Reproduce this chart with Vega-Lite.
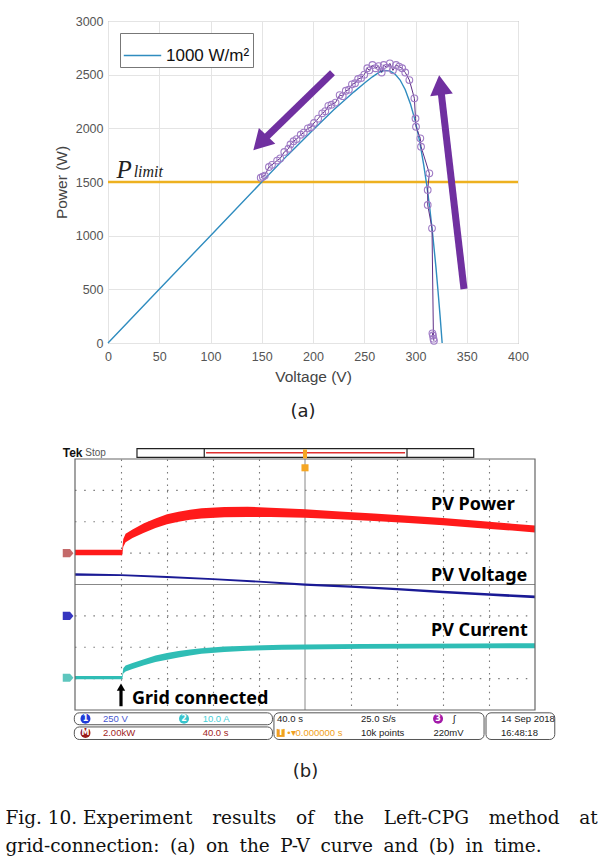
{
  "$schema": "https://vega.github.io/schema/vega-lite/v6.json",
  "background": "white",
  "padding": {"left": 5, "top": 14, "right": 5, "bottom": 5},
  "spacing": 24,
  "resolve": {"scale": {"color": "independent"}, "legend": {"color": "independent"}},
  "title": {
    "text": ["Fig. 10. Experiment \u2002\u2005results \u2002\u2005of \u2002\u2005the \u2002\u2005Left-CPG \u2002\u2005method \u2002\u2005at", "grid-connection: \u2005(a) \u2005on \u2005the \u2005P-V \u2005curve \u2005and \u2005(b) \u2005in \u2005time."],
    "orient": "bottom", "anchor": "start", "offset": 28,
    "font": "DejaVu Serif", "fontSize": 18.5, "fontWeight": "normal", "color": "#111", "lineHeight": 28
  },
  "datasets": {
    "curve": [
      {"V": 0, "P": 0, "s": "1000 W/m²"}, {"V": 50, "P": 500, "s": "1000 W/m²"}, {"V": 100, "P": 1000, "s": "1000 W/m²"},
      {"V": 150, "P": 1500, "s": "1000 W/m²"}, {"V": 175, "P": 1748, "s": "1000 W/m²"}, {"V": 200, "P": 1985, "s": "1000 W/m²"},
      {"V": 220, "P": 2170, "s": "1000 W/m²"}, {"V": 240, "P": 2340, "s": "1000 W/m²"}, {"V": 250, "P": 2420, "s": "1000 W/m²"},
      {"V": 258, "P": 2480, "s": "1000 W/m²"}, {"V": 265, "P": 2525, "s": "1000 W/m²"}, {"V": 270, "P": 2540, "s": "1000 W/m²"},
      {"V": 275, "P": 2535, "s": "1000 W/m²"}, {"V": 280, "P": 2505, "s": "1000 W/m²"}, {"V": 285, "P": 2450, "s": "1000 W/m²"},
      {"V": 290, "P": 2360, "s": "1000 W/m²"}, {"V": 295, "P": 2230, "s": "1000 W/m²"}, {"V": 300, "P": 2060, "s": "1000 W/m²"},
      {"V": 304, "P": 1880, "s": "1000 W/m²"}, {"V": 308, "P": 1660, "s": "1000 W/m²"}, {"V": 311, "P": 1470, "s": "1000 W/m²"},
      {"V": 314, "P": 1250, "s": "1000 W/m²"}, {"V": 317, "P": 990, "s": "1000 W/m²"}, {"V": 320, "P": 700, "s": "1000 W/m²"},
      {"V": 322, "P": 480, "s": "1000 W/m²"}, {"V": 324, "P": 250, "s": "1000 W/m²"}, {"V": 326, "P": 0, "s": "1000 W/m²"}
    ],
    "meas": [
      {"k": 1, "V": 318, "P": 20}, {"k": 2, "V": 317, "P": 70}, {"k": 3, "V": 316.5, "P": 90}, {"k": 4, "V": 317.5, "P": 40},
      {"k": 5, "V": 316.1, "P": 1068}, {"k": 6, "V": 311.9, "P": 1286}, {"k": 7, "V": 311.9, "P": 1426}, {"k": 8, "V": 313.5, "P": 1581},
      {"k": 9, "V": 305.4, "P": 1829}, {"k": 10, "V": 304.7, "P": 1907}, {"k": 11, "V": 300.5, "P": 2015}, {"k": 12, "V": 300, "P": 2092},
      {"k": 13, "V": 298.9, "P": 2280}, {"k": 14, "V": 294, "P": 2450}, {"k": 15, "V": 290, "P": 2520}, {"k": 16, "V": 287, "P": 2560},
      {"k": 17, "V": 284, "P": 2575}, {"k": 18, "V": 281, "P": 2590}, {"k": 19, "V": 278, "P": 2540}, {"k": 20, "V": 275, "P": 2605},
      {"k": 21, "V": 272, "P": 2565}, {"k": 22, "V": 269, "P": 2590}, {"k": 23, "V": 267, "P": 2520}, {"k": 24, "V": 264, "P": 2580},
      {"k": 25, "V": 261, "P": 2560}, {"k": 26, "V": 258, "P": 2590}, {"k": 27, "V": 255, "P": 2540}, {"k": 28, "V": 253, "P": 2560},
      {"k": 29, "V": 250, "P": 2500}, {"k": 30, "V": 247, "P": 2470}, {"k": 31, "V": 244, "P": 2460}, {"k": 32, "V": 241, "P": 2420},
      {"k": 33, "V": 238, "P": 2410}, {"k": 34, "V": 235, "P": 2360}, {"k": 35, "V": 232, "P": 2350}, {"k": 36, "V": 229, "P": 2300},
      {"k": 37, "V": 226, "P": 2310}, {"k": 38, "V": 222, "P": 2240}, {"k": 39, "V": 218, "P": 2220}, {"k": 40, "V": 215, "P": 2210},
      {"k": 41, "V": 212, "P": 2160}, {"k": 42, "V": 209, "P": 2140}, {"k": 43, "V": 205, "P": 2090}, {"k": 44, "V": 201, "P": 2050},
      {"k": 45, "V": 198, "P": 2010}, {"k": 46, "V": 195, "P": 2000}, {"k": 47, "V": 191, "P": 1960}, {"k": 48, "V": 188, "P": 1940},
      {"k": 49, "V": 184, "P": 1900}, {"k": 50, "V": 181, "P": 1880}, {"k": 51, "V": 178, "P": 1850}, {"k": 52, "V": 176, "P": 1810},
      {"k": 53, "V": 172, "P": 1780}, {"k": 54, "V": 168, "P": 1720}, {"k": 55, "V": 165, "P": 1700}, {"k": 56, "V": 160, "P": 1660},
      {"k": 57, "V": 157, "P": 1640}, {"k": 58, "V": 153, "P": 1560}, {"k": 59, "V": 151, "P": 1550}, {"k": 60, "V": 149, "P": 1540}
    ],
    "traces": [
      {"c": "pw", "t": 0, "lo": 0.93, "hi": 1.11}, {"c": "pw", "t": 41, "lo": 0.93, "hi": 1.11}, {"c": "pw", "t": 42, "lo": 1.2, "hi": 1.45},
      {"c": "pw", "t": 44, "lo": 1.35, "hi": 1.62}, {"c": "pw", "t": 50, "lo": 1.48, "hi": 1.75}, {"c": "pw", "t": 60, "lo": 1.65, "hi": 1.95},
      {"c": "pw", "t": 70, "lo": 1.8, "hi": 2.1}, {"c": "pw", "t": 80, "lo": 1.92, "hi": 2.24}, {"c": "pw", "t": 90, "lo": 2.0, "hi": 2.32},
      {"c": "pw", "t": 100, "lo": 2.06, "hi": 2.38}, {"c": "pw", "t": 110, "lo": 2.1, "hi": 2.43}, {"c": "pw", "t": 130, "lo": 2.14, "hi": 2.47},
      {"c": "pw", "t": 150, "lo": 2.15, "hi": 2.48}, {"c": "pw", "t": 170, "lo": 2.15, "hi": 2.45}, {"c": "pw", "t": 200, "lo": 2.13, "hi": 2.4},
      {"c": "pw", "t": 230, "lo": 2.08, "hi": 2.33}, {"c": "pw", "t": 260, "lo": 2.02, "hi": 2.26}, {"c": "pw", "t": 290, "lo": 1.96, "hi": 2.19},
      {"c": "pw", "t": 320, "lo": 1.89, "hi": 2.12}, {"c": "pw", "t": 350, "lo": 1.8, "hi": 2.03}, {"c": "pw", "t": 380, "lo": 1.72, "hi": 1.94},
      {"c": "pw", "t": 400, "lo": 1.66, "hi": 1.88},
      {"c": "v", "t": 0, "lo": 0.28, "hi": 0.36}, {"c": "v", "t": 40, "lo": 0.27, "hi": 0.33}, {"c": "v", "t": 80, "lo": 0.21, "hi": 0.27},
      {"c": "v", "t": 120, "lo": 0.14, "hi": 0.2}, {"c": "v", "t": 160, "lo": 0.06, "hi": 0.12}, {"c": "v", "t": 200, "lo": -0.04, "hi": 0.03},
      {"c": "v", "t": 240, "lo": -0.1, "hi": -0.03}, {"c": "v", "t": 280, "lo": -0.18, "hi": -0.11}, {"c": "v", "t": 320, "lo": -0.28, "hi": -0.2},
      {"c": "v", "t": 360, "lo": -0.36, "hi": -0.28}, {"c": "v", "t": 400, "lo": -0.44, "hi": -0.35},
      {"c": "i", "t": 0, "lo": -3.02, "hi": -2.92}, {"c": "i", "t": 41, "lo": -3.02, "hi": -2.92}, {"c": "i", "t": 42, "lo": -2.84, "hi": -2.67},
      {"c": "i", "t": 44, "lo": -2.77, "hi": -2.58}, {"c": "i", "t": 50, "lo": -2.69, "hi": -2.5}, {"c": "i", "t": 60, "lo": -2.57, "hi": -2.38},
      {"c": "i", "t": 70, "lo": -2.47, "hi": -2.26}, {"c": "i", "t": 80, "lo": -2.4, "hi": -2.18}, {"c": "i", "t": 90, "lo": -2.33, "hi": -2.12},
      {"c": "i", "t": 100, "lo": -2.26, "hi": -2.07}, {"c": "i", "t": 110, "lo": -2.21, "hi": -2.03}, {"c": "i", "t": 130, "lo": -2.15, "hi": -1.98},
      {"c": "i", "t": 150, "lo": -2.11, "hi": -1.95}, {"c": "i", "t": 180, "lo": -2.08, "hi": -1.92}, {"c": "i", "t": 200, "lo": -2.07, "hi": -1.91},
      {"c": "i", "t": 250, "lo": -2.05, "hi": -1.9}, {"c": "i", "t": 300, "lo": -2.04, "hi": -1.89}, {"c": "i", "t": 350, "lo": -2.03, "hi": -1.88},
      {"c": "i", "t": 400, "lo": -2.03, "hi": -1.87}
    ]
  },
  "vconcat": [
    {
      "width": 410, "height": 322,
      "view": {"stroke": "#8c8c8c", "strokeWidth": 1},
      "title": {"text": "(a)", "orient": "bottom", "frame": "group", "offset": 18, "dx": -10, "font": "DejaVu Sans", "fontSize": 18, "fontWeight": "normal", "color": "#222"},
      "layer": [
        {
          "data": {"values": [{"V": -99, "P": 1500}]},
          "mark": {"type": "point", "shape": "circle", "filled": true, "size": 1, "color": "white", "opacity": 1},
          "encoding": {"x": {"field": "V", "type": "quantitative"}, "y": {"field": "P", "type": "quantitative"}}
        },
        {
          "data": {"values": [{"P": 1500}]},
          "mark": {"type": "rule", "color": "#EDB120", "strokeWidth": 2.5},
          "encoding": {"y": {"field": "P", "type": "quantitative"}}
        },
        {
          "data": {"name": "curve"},
          "mark": {"type": "line", "strokeWidth": 1.4},
          "encoding": {
            "x": {"field": "V", "type": "quantitative", "scale": {"domain": [0, 400], "nice": false},
              "axis": {"title": "Voltage (V)", "values": [0, 50, 100, 150, 200, 250, 300, 350, 400], "grid": true, "gridColor": "#e4e4e4",
                "domain": false, "ticks": false, "labelPadding": 7, "labelFlush": false, "labelOverlap": false,
                "labelFont": "Liberation Sans", "labelFontSize": 12.5, "labelColor": "#555",
                "titleFont": "Liberation Sans", "titleFontSize": 15.5, "titleFontWeight": "normal", "titleColor": "#444", "titlePadding": 7}},
            "y": {"field": "P", "type": "quantitative", "scale": {"domain": [0, 3000], "nice": false},
              "axis": {"title": "Power (W)", "format": "d", "values": [0, 500, 1000, 1500, 2000, 2500, 3000], "grid": true, "gridColor": "#e4e4e4",
                "domain": false, "ticks": false, "labelPadding": 5, "labelFlush": false, "labelOverlap": false,
                "labelFont": "Liberation Sans", "labelFontSize": 12.5, "labelColor": "#555",
                "titleFont": "Liberation Sans", "titleFontSize": 15.5, "titleFontWeight": "normal", "titleColor": "#444", "titlePadding": 6}},
            "color": {"field": "s", "type": "nominal", "scale": {"range": ["#2f8cbf"]},
              "legend": {"orient": "none", "legendX": 12, "legendY": 12, "title": null, "symbolType": "stroke", "symbolSize": 1400,
                "symbolStrokeWidth": 1.5, "labelFont": "Liberation Sans", "labelFontSize": 17, "labelColor": "#111",
                "strokeColor": "#777", "fillColor": "white", "padding": 3, "labelOffset": 4}}
          }
        },
        {
          "data": {"name": "meas"},
          "mark": {"type": "line", "color": "#5e2f86", "strokeWidth": 1},
          "encoding": {"x": {"field": "V", "type": "quantitative"}, "y": {"field": "P", "type": "quantitative"}, "order": {"field": "k"}}
        },
        {
          "data": {"name": "meas"},
          "mark": {"type": "point", "shape": "circle", "filled": false, "color": "#a07cc6", "size": 45, "strokeWidth": 1.1, "opacity": 1},
          "encoding": {"x": {"field": "V", "type": "quantitative"}, "y": {"field": "P", "type": "quantitative"}}
        },
        {
          "data": {"values": [{"V": 219, "P": 2518, "V2": 148.5, "P2": 1863}, {"V": 347.3, "P": 503, "V2": 324.2, "P2": 2404}]},
          "mark": {"type": "rule", "color": "#7030A0", "strokeWidth": 7},
          "encoding": {"x": {"field": "V", "type": "quantitative"}, "y": {"field": "P", "type": "quantitative"}, "x2": {"field": "V2"}, "y2": {"field": "P2"}}
        },
        {
          "data": {"values": [{"V": 148.5, "P": 1863}]},
          "mark": {"type": "point", "shape": "triangle-up", "filled": true, "color": "#7030A0", "size": 520, "angle": 224, "opacity": 1},
          "encoding": {"x": {"field": "V", "type": "quantitative"}, "y": {"field": "P", "type": "quantitative"}}
        },
        {
          "data": {"values": [{"V": 324.2, "P": 2404}]},
          "mark": {"type": "point", "shape": "triangle-up", "filled": true, "color": "#7030A0", "size": 520, "angle": 353, "opacity": 1},
          "encoding": {"x": {"field": "V", "type": "quantitative"}, "y": {"field": "P", "type": "quantitative"}}
        },
        {
          "data": {"values": [{"V": 8.3, "P": 1540, "s": "P"}]},
          "mark": {"type": "text", "font": "Liberation Serif", "fontStyle": "italic", "fontSize": 25, "align": "left", "baseline": "alphabetic", "color": "#222"},
          "encoding": {"x": {"field": "V", "type": "quantitative"}, "y": {"field": "P", "type": "quantitative"}, "text": {"field": "s"}}
        },
        {
          "data": {"values": [{"V": 25, "P": 1548, "s": "limit"}]},
          "mark": {"type": "text", "font": "Liberation Serif", "fontStyle": "italic", "fontSize": 16, "align": "left", "baseline": "alphabetic", "color": "#222"},
          "encoding": {"x": {"field": "V", "type": "quantitative"}, "y": {"field": "P", "type": "quantitative"}, "text": {"field": "s"}}
        }
      ]
    },
    {
      "width": 427, "height": 251,
      "view": {"stroke": "transparent"},
      "title": {"text": "(b)", "orient": "bottom", "frame": "group", "offset": 23, "dx": -16, "font": "DejaVu Sans", "fontSize": 18, "fontWeight": "normal", "color": "#222"},
      "layer": [
        {
          "data": {"values": [{"t": -59.6, "d": 0}]},
          "mark": {"type": "point", "shape": "circle", "filled": true, "size": 1, "color": "white", "opacity": 1},
          "encoding": {"x": {"field": "t", "type": "quantitative"}, "y": {"field": "d", "type": "quantitative"}}
        },
        {
          "data": {"values": [{"t": 0, "t2": 400, "d": -3}, {"t": 0, "t2": 400, "d": -2}, {"t": 0, "t2": 400, "d": -1}, {"t": 0, "t2": 400, "d": 1}, {"t": 0, "t2": 400, "d": 2}, {"t": 0, "t2": 400, "d": 3}]},
          "mark": {"type": "rule", "color": "#777", "strokeWidth": 1.1, "strokeDash": [1.5, 7.7]},
          "encoding": {"x": {"field": "t", "type": "quantitative"}, "x2": {"field": "t2"}, "y": {"field": "d", "type": "quantitative"}}
        },
        {
          "data": {"values": [{"t": 0, "t2": 400, "d": 0}]},
          "mark": {"type": "rule", "color": "#888", "strokeWidth": 1},
          "encoding": {"x": {"field": "t", "type": "quantitative"}, "x2": {"field": "t2"}, "y": {"field": "d", "type": "quantitative"}}
        },
        {
          "data": {"values": [{"t": 200}]},
          "mark": {"type": "rule", "color": "#888", "strokeWidth": 1},
          "encoding": {"x": {"field": "t", "type": "quantitative"}}
        },
        {
          "data": {"name": "traces"},
          "mark": {"type": "area", "opacity": 1},
          "encoding": {
            "x": {"field": "t", "type": "quantitative", "scale": {"domain": [0, 400], "range": [-33, 427], "nice": false, "zero": false},
              "axis": {"title": null, "labels": false, "domain": false, "ticks": false,
                "values": [40, 80, 120, 160, 240, 280, 320, 360],
                "grid": true, "gridColor": "#777", "gridDash": [1.5, 4.78], "gridWidth": 1.1}},
            "y": {"field": "lo", "type": "quantitative", "scale": {"domain": [-4, 4], "nice": false, "zero": false},
              "axis": {"title": null, "labels": false, "domain": false, "ticks": false, "grid": false}},
            "y2": {"field": "hi"},
            "color": {"field": "c", "type": "nominal", "legend": null,
              "scale": {"domain": ["pw", "v", "i", "mpw", "mv", "mi", "ch1", "ch2", "math", "ch3", "k", "trig", "tch1", "tch2", "tmath"],
                "range": ["#ff1a1a", "#1a1a95", "#2fbdb5", "#c46a6a", "#3636c0", "#5ec6be", "#1f3ad8", "#38c4cc", "#9a1a1a", "#a21aa8", "#222222", "#f0a020", "#4757d0", "#48d0d8", "#a02424"]}}
          }
        },
        {
          "data": {"values": [{"t": 0, "t2": 400, "d": -4, "d2": 4}]},
          "mark": {"type": "rect", "fill": "transparent", "stroke": "#666", "strokeWidth": 1.2},
          "encoding": {"x": {"field": "t", "type": "quantitative"}, "x2": {"field": "t2"}, "y": {"field": "d", "type": "quantitative"}, "y2": {"field": "d2"}}
        },
        {
          "data": {"values": [{"t": -6, "d": 1.0, "c": "mpw"}, {"t": -6, "d": -1.0, "c": "mv"}, {"t": -6, "d": -2.97, "c": "mi"}]},
          "mark": {"type": "point", "shape": "M-1,-0.75L0.35,-0.75L1,0L0.35,0.75L-1,0.75Z", "filled": true, "size": 115, "opacity": 1},
          "encoding": {"x": {"field": "t", "type": "quantitative"}, "y": {"field": "d", "type": "quantitative"}, "color": {"field": "c", "type": "nominal", "legend": null}}
        },
        {
          "data": {"values": [{"t": 53.9, "t2": 346.7, "d": 4.05, "d2": 4.33}, {"t": 112.4, "t2": 288.7, "d": 4.05, "d2": 4.33}]},
          "mark": {"type": "rect", "fill": "white", "stroke": "#222", "strokeWidth": 1.2},
          "encoding": {"x": {"field": "t", "type": "quantitative"}, "x2": {"field": "t2"}, "y": {"field": "d", "type": "quantitative"}, "y2": {"field": "d2"}}
        },
        {
          "data": {"values": [{"t": 114, "t2": 287, "d": 4.2}]},
          "mark": {"type": "rule", "color": "#e03030", "strokeWidth": 1.5},
          "encoding": {"x": {"field": "t", "type": "quantitative"}, "x2": {"field": "t2"}, "y": {"field": "d", "type": "quantitative"}}
        },
        {
          "data": {"values": [{"t": 200, "d": 4.16}]},
          "mark": {"type": "point", "shape": "M-0.45,-1L0.45,-1L0.45,1L-0.45,1Z", "filled": true, "size": 81, "color": "#f5a623", "opacity": 1},
          "encoding": {"x": {"field": "t", "type": "quantitative"}, "y": {"field": "d", "type": "quantitative"}}
        },
        {
          "data": {"values": [{"t": 200, "d": 3.72}]},
          "mark": {"type": "point", "shape": "square", "filled": true, "size": 50, "color": "#f5a623", "opacity": 1},
          "encoding": {"x": {"field": "t", "type": "quantitative"}, "y": {"field": "d", "type": "quantitative"}}
        },
        {
          "data": {"values": [{"t": -10.7, "d": 4.18, "s": "Tek"}]},
          "mark": {"type": "text", "font": "Liberation Sans", "fontWeight": "bold", "fontSize": 12, "align": "left", "baseline": "middle", "color": "#111"},
          "encoding": {"x": {"field": "t", "type": "quantitative"}, "y": {"field": "d", "type": "quantitative"}, "text": {"field": "s"}}
        },
        {
          "data": {"values": [{"t": 9, "d": 4.18, "s": "Stop"}]},
          "mark": {"type": "text", "font": "Liberation Sans", "fontSize": 10, "align": "left", "baseline": "middle", "color": "#555"},
          "encoding": {"x": {"field": "t", "type": "quantitative"}, "y": {"field": "d", "type": "quantitative"}, "text": {"field": "s"}}
        },
        {
          "data": {"values": [{"t": 309.6, "d": 2.52, "s": "PV Power"}, {"t": 309.6, "d": 0.26, "s": "PV Voltage"}, {"t": 309.6, "d": -1.49, "s": "PV Current"}, {"t": 49.6, "d": -3.65, "s": "Grid connected"}]},
          "mark": {"type": "text", "font": "Noto Sans", "fontWeight": "bold", "fontSize": 18, "align": "left", "baseline": "middle", "color": "#000"},
          "encoding": {"x": {"field": "t", "type": "quantitative"}, "y": {"field": "d", "type": "quantitative"}, "text": {"field": "s"}}
        },
        {
          "data": {"values": [{"t": 40, "d": -3.88, "d2": -3.32}]},
          "mark": {"type": "rule", "color": "#000", "strokeWidth": 3.2},
          "encoding": {"x": {"field": "t", "type": "quantitative"}, "y": {"field": "d", "type": "quantitative"}, "y2": {"field": "d2"}}
        },
        {
          "data": {"values": [{"t": 40, "d": -3.27}]},
          "mark": {"type": "point", "shape": "triangle-up", "filled": true, "color": "#000", "size": 70, "opacity": 1},
          "encoding": {"x": {"field": "t", "type": "quantitative"}, "y": {"field": "d", "type": "quantitative"}}
        },
        {
          "data": {"values": [
            {"t": -0.6, "t2": 171.7, "d": -4.09, "d2": -4.47}, {"t": -0.6, "t2": 171.7, "d": -4.54, "d2": -4.94},
            {"t": 173, "t2": 355.7, "d": -4.09, "d2": -4.94}, {"t": 357.4, "t2": 417.2, "d": -4.09, "d2": -4.94}]},
          "mark": {"type": "rect", "fill": "white", "stroke": "#555", "strokeWidth": 1, "cornerRadius": 5},
          "encoding": {"x": {"field": "t", "type": "quantitative"}, "x2": {"field": "t2"}, "y": {"field": "d", "type": "quantitative"}, "y2": {"field": "d2"}}
        },
        {
          "data": {"values": [{"t": 9.1, "d": -4.28, "c": "ch1"}, {"t": 94.8, "d": -4.28, "c": "ch2"}, {"t": 9.1, "d": -4.73, "c": "math"}, {"t": 315.7, "d": -4.28, "c": "ch3"}]},
          "mark": {"type": "point", "shape": "circle", "filled": true, "size": 100, "opacity": 1},
          "encoding": {"x": {"field": "t", "type": "quantitative"}, "y": {"field": "d", "type": "quantitative"}, "color": {"field": "c", "type": "nominal", "legend": null}}
        },
        {
          "data": {"values": [{"t": 178.8, "d": -4.73, "c": "trig"}]},
          "mark": {"type": "point", "shape": "square", "filled": true, "size": 64, "opacity": 1},
          "encoding": {"x": {"field": "t", "type": "quantitative"}, "y": {"field": "d", "type": "quantitative"}, "color": {"field": "c", "type": "nominal", "legend": null}}
        },
        {
          "data": {"values": [{"t": 9.1, "d": -4.28, "s": "1"}, {"t": 94.8, "d": -4.28, "s": "2"}, {"t": 9.1, "d": -4.73, "s": "M"}, {"t": 315.7, "d": -4.28, "s": "3"}, {"t": 178.8, "d": -4.73, "s": "T"}]},
          "mark": {"type": "text", "font": "DejaVu Sans", "fontWeight": "bold", "fontSize": 8, "align": "center", "baseline": "middle", "color": "white"},
          "encoding": {"x": {"field": "t", "type": "quantitative"}, "y": {"field": "d", "type": "quantitative"}, "text": {"field": "s"}}
        },
        {
          "data": {"values": [
            {"t": 24.3, "d": -4.28, "s": "250 V", "c": "tch1"}, {"t": 111, "d": -4.28, "s": "10.0 A", "c": "tch2"},
            {"t": 24.3, "d": -4.73, "s": "2.00kW", "c": "tmath"}, {"t": 111, "d": -4.73, "s": "40.0 s", "c": "tmath"},
            {"t": 175.7, "d": -4.28, "s": "40.0 s", "c": "k"}, {"t": 248.7, "d": -4.28, "s": "25.0 S/s", "c": "k"},
            {"t": 328.4, "d": -4.28, "s": "∫", "c": "k"}, {"t": 184.5, "d": -4.73, "s": "•▾0.000000 s", "c": "trig"},
            {"t": 248.7, "d": -4.73, "s": "10k points", "c": "k"}, {"t": 311.7, "d": -4.73, "s": "220mV", "c": "k"},
            {"t": 370.4, "d": -4.28, "s": "14 Sep 2018", "c": "k"}, {"t": 370.4, "d": -4.73, "s": "16:48:18", "c": "k"}]},
          "mark": {"type": "text", "font": "Liberation Sans", "fontSize": 9.5, "align": "left", "baseline": "middle"},
          "encoding": {"x": {"field": "t", "type": "quantitative"}, "y": {"field": "d", "type": "quantitative"}, "text": {"field": "s"}, "color": {"field": "c", "type": "nominal", "legend": null}}
        }
      ]
    }
  ]
}
